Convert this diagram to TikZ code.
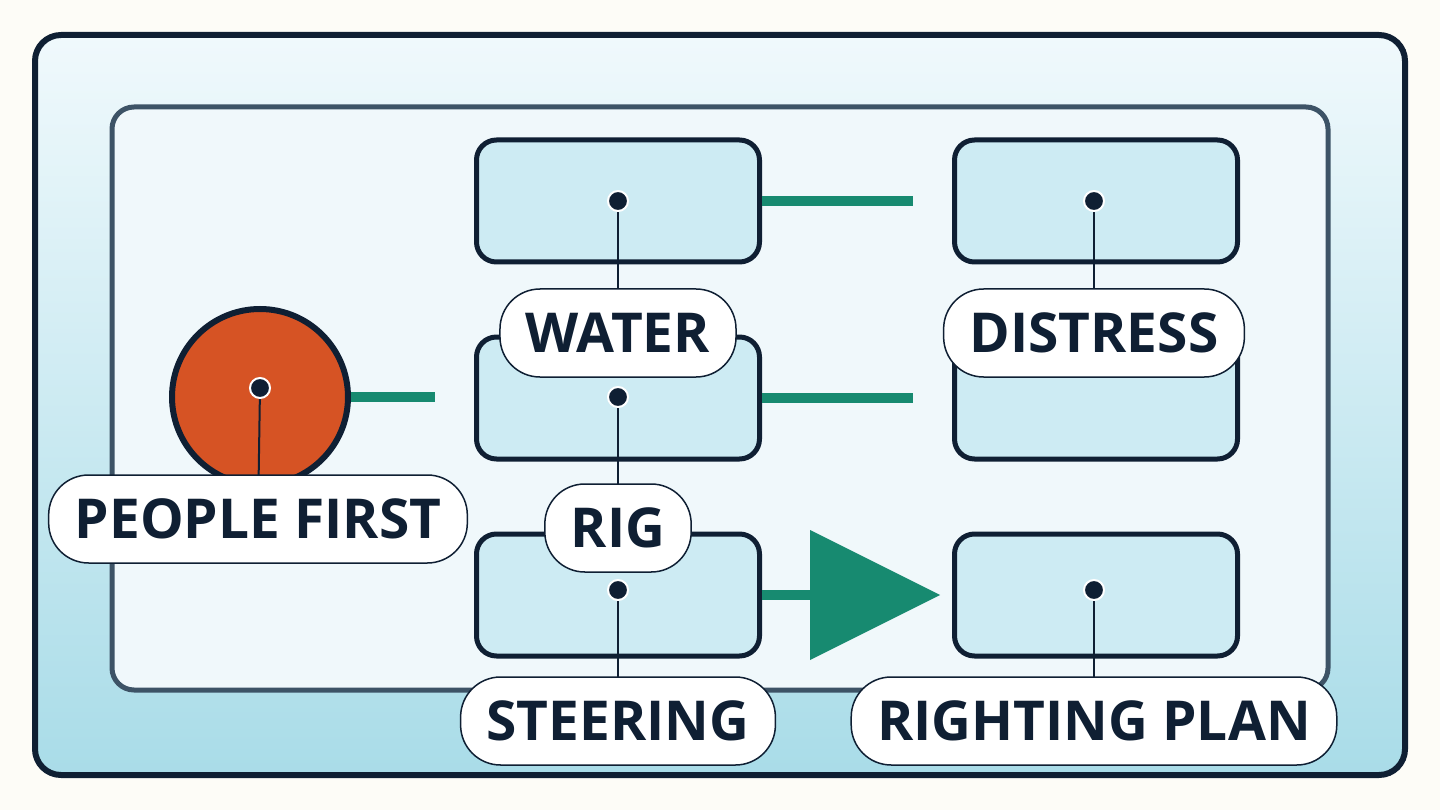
\documentclass[tikz,border=0pt]{standalone}
\usepackage{fontspec}
\setmainfont{Open Sans}
\usetikzlibrary{positioning}
\definecolor{ink}{HTML}{0F1F33}
\definecolor{frame}{HTML}{3D5366}
\definecolor{boxfill}{HTML}{CDEBF3}
\definecolor{teal}{HTML}{178A70}
\definecolor{rust}{HTML}{D65324}
\definecolor{paper}{HTML}{FDFCF7}
\definecolor{skytop}{HTML}{F0F9FC}
\definecolor{skybot}{HTML}{A9DCE8}
\definecolor{panel}{HTML}{F0F8FB}
\tikzset{
  stage/.style={draw=ink, line width=5pt, fill=boxfill, rounded corners=20pt, minimum width=283pt, minimum height=122pt},
  pill/.style={draw=ink, line width=1.5pt, fill=white, rounded corners=40pt, inner xsep=26pt, minimum height=88pt, font=\fontsize{55}{55}\selectfont\bfseries, text=ink},
  pin/.style={circle, fill=ink, draw=white, line width=2pt, inner sep=0pt, minimum size=20pt},
  link/.style={teal, line width=10pt},
  lead/.style={ink, line width=2pt}
}
\begin{document}
\begin{tikzpicture}[x=1pt,y=-1pt]
\useasboundingbox (0,0) rectangle (1440,810);
\fill[paper] (0,0) rectangle (1440,810);
% outer and inner frames
\shade[top color=skytop, bottom color=skybot, rounded corners=26pt] (35,35) rectangle (1405,775);
\draw[ink, line width=6pt, rounded corners=26pt] (35,35) rectangle (1405,775);
\draw[frame, line width=5pt, fill=panel, rounded corners=22pt] (112,107) rectangle (1328,690);

% stages
\node[stage] (water) at (618,201) {};
\node[stage] (distress) at (1096,201) {};
\node[stage] (rig) at (618,398) {};
\node[stage] (drow) at (1096,398) {};
\node[stage] (steer) at (618,595) {};
\node[stage] (plan) at (1096,595) {};
\node[circle, draw=ink, line width=6pt, fill=rust, minimum size=176pt] (people) at (260,397) {};

% connectors
\coordinate (e1) at (435,397);
\coordinate (e2) at (913,201);
\coordinate (e3) at (913,398);
\coordinate (e4) at (812,595);
\draw[link] (people.east) -- (e1);
\draw[link] (water.east) -- (e2);
\draw[link] (rig.east) -- (e3);
\draw[link] (steer.east) -- (e4);
\fill[teal] (810,530) -- (940,595) -- (810,660) -- cycle;

% pins and labels
\foreach \n/\x/\y in {p1/260/388,p2/618/201,p3/1094/201,p4/618/397,p5/618/590,p6/1094/590}
  \coordinate (\n) at (\x,\y);
\foreach \n/\x/\y in {l1/258/519,l2/618/333,l3/1094/333,l4/618/528,l5/618/721,l6/1094/721}
  \coordinate (\n) at (\x,\y);
\foreach \p/\l in {p1/l1,p2/l2,p3/l3,p4/l4,p5/l5,p6/l6}
  \draw[lead] (\p) -- (\l);
\foreach \p in {p1,p2,p3,p4,p5,p6}
  \node[pin] at (\p) {};
\foreach \l/\t in {l1/PEOPLE FIRST,l2/WATER,l3/DISTRESS,l4/RIG,l5/STEERING,l6/RIGHTING PLAN}
  \node[pill] at (\l) {\t};
\end{tikzpicture}
\end{document}
